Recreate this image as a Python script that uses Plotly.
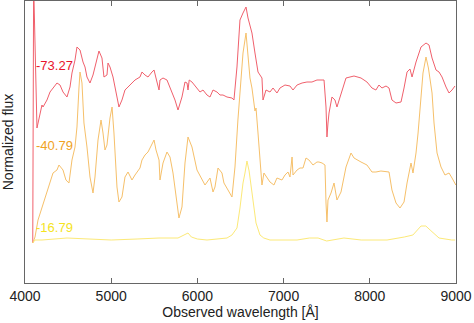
import plotly.graph_objects as go

# Spectrum 73.27 (red)
red_wl = [4090, 4100, 4139, 4197, 4209, 4255, 4290, 4325, 4371, 4406, 4441, 4487, 4522, 4545, 4580, 4603,
          4638, 4673, 4696, 4719, 4754, 4789, 4835, 4858, 4893, 4916, 4951, 4963, 4986, 5021, 5067, 5090,
          5125, 5160, 5195, 5241, 5276, 5334, 5357, 5392, 5427, 5473, 5497, 5531, 5555, 5566, 5601, 5647,
          5682, 5740, 5775, 5821, 5856, 5880, 5891, 5905, 5937, 5995, 6030, 6065, 6111, 6146, 6181, 6227,
          6262, 6297, 6343, 6401, 6424, 6459, 6494, 6529, 6564, 6587, 6633, 6668, 6703, 6749, 6761, 6796,
          6842, 6877, 6923, 6958, 7016, 7074, 7109, 7156, 7214, 7271, 7329, 7387, 7422, 7469, 7492, 7503,
          7515, 7527, 7561, 7596, 7619, 7666, 7724, 7817, 7898, 7967, 8025, 8071, 8106, 8141, 8188, 8223,
          8257, 8304, 8362, 8397, 8432, 8466, 8490, 8536, 8594, 8652, 8687, 8722, 8768, 8803, 8838, 8884,
          8919, 8954, 8988]
red_flux = [40, 300, 155, 178, 176, 183, 191, 195, 200, 198, 191, 186, 196, 210, 223, 236,
            233, 221, 216, 206, 200, 208, 226, 232, 225, 206, 208, 220, 216, 206, 186, 176,
            183, 193, 196, 200, 203, 206, 211, 208, 206, 211, 213, 201, 193, 203, 205, 203,
            196, 183, 173, 186, 201, 200, 193, 203, 201, 195, 191, 193, 188, 186, 193, 191,
            188, 188, 186, 185, 183, 216, 263, 270, 276, 265, 250, 230, 211, 205, 183, 193,
            191, 195, 190, 195, 198, 197, 193, 198, 200, 201, 201, 203, 203, 203, 176, 146,
            160, 170, 186, 183, 176, 190, 205, 207, 205, 201, 195, 193, 198, 195, 197, 195,
            183, 180, 181, 195, 211, 214, 206, 221, 236, 240, 238, 225, 213, 211, 206, 196,
            190, 193, 197]

# Spectrum 40.79 (orange)
orange_wl = [4090, 4116, 4151, 4197, 4232, 4290, 4325, 4371, 4394, 4441, 4475, 4510, 4545, 4580, 4603,
             4626, 4638, 4661, 4684, 4719, 4754, 4789, 4812, 4847, 4882, 4905, 4928, 4951, 4986, 5010,
             5032, 5067, 5090, 5125, 5160, 5195, 5241, 5276, 5334, 5357, 5392, 5427, 5473, 5497, 5520,
             5555, 5566, 5601, 5647, 5682, 5717, 5763, 5786, 5821, 5856, 5891, 5937, 5995, 6053, 6088,
             6146, 6181, 6204, 6239, 6285, 6308, 6355, 6401, 6436, 6470, 6529, 6564, 6610, 6633, 6668,
             6680, 6703, 6726, 6749, 6772, 6807, 6842, 6888, 6923, 6981, 7016, 7051, 7074, 7098, 7109,
             7156, 7190, 7225, 7260, 7294, 7341, 7387, 7410, 7446, 7480, 7492, 7503, 7515, 7550, 7585,
             7619, 7666, 7724, 7782, 7817, 7898, 7967, 8025, 8071, 8129, 8223, 8257, 8304, 8350, 8397,
             8432, 8478, 8501, 8536, 8560, 8594, 8617, 8652, 8680, 8722, 8745, 8780, 8826, 8872, 8919,
             8954, 8998]
orange_flux = [40, 46, 63, 76, 86, 101, 110, 113, 118, 113, 103, 100, 123, 136, 156,
               195, 211, 200, 160, 136, 106, 90, 106, 143, 163, 150, 133, 138, 165, 176,
               150, 96, 81, 86, 106, 111, 103, 108, 115, 123, 128, 131, 138, 143, 133,
               123, 103, 120, 131, 126, 110, 83, 65, 76, 120, 146, 136, 113, 103, 98,
               105, 91, 96, 115, 110, 100, 93, 86, 116, 163, 230, 250, 205, 195, 172,
               175, 150, 120, 98, 110, 105, 101, 98, 105, 103, 108, 111, 106, 126, 108,
               113, 115, 115, 125, 123, 118, 121, 121, 120, 118, 80, 61, 83, 90, 100,
               83, 91, 116, 130, 125, 121, 118, 111, 111, 112, 111, 93, 80, 75, 81,
               100, 120, 110, 130, 150, 185, 210, 226, 215, 190, 160, 130, 116, 108, 110,
               105, 98]

# Spectrum 16.79 (yellow)
yellow_wl = [4090, 4116, 4151, 4197, 4487, 4800, 5000, 5300, 5555, 5775, 5850, 5891, 5930, 6000,
             6111, 6250, 6343, 6401, 6459, 6494, 6529, 6552, 6575, 6600, 6645, 6680, 6726, 6770,
             6842, 7000, 7156, 7300, 7400, 7500, 7700, 7900, 8200, 8400, 8500, 8594, 8650, 8700,
             8803, 8950, 8990]
yellow_flux = [40, 43, 43, 43, 45, 44, 43, 44, 45, 45, 48, 50, 46, 44,
               43, 44, 45, 48, 55, 75, 100, 110, 122, 112, 80, 60, 48, 45,
               43, 43, 43, 45, 45, 42, 45, 43, 43, 46, 48, 57, 57, 53,
               45, 43, 43]

labels = ["73.27", "40.79", "16.79"]
label_flux = [218, 138, 56]
line_colors = ["#f0606c", "#f6c06a", "#fce978"]
text_colors = ["#e8152d", "#f0a21e", "#f5e41e"]
x_ticks = [4000, 5000, 6000, 7000, 8000, 9000]

fig = go.Figure()
for wl, fl, c in [(red_wl, red_flux, line_colors[0]),
                  (orange_wl, orange_flux, line_colors[1]),
                  (yellow_wl, yellow_flux, line_colors[2])]:
    fig.add_trace(go.Scatter(x=wl, y=fl, mode="lines",
                             line=dict(color=c, width=1), showlegend=False))

for lab, yv, tc in zip(labels, label_flux, text_colors):
    fig.add_annotation(x=4100, y=yv, text="-" + lab, showarrow=False,
                       xanchor="left", yanchor="middle",
                       font=dict(size=13, color=tc, family="Liberation Sans, Arial"))

fig.update_layout(
    width=474, height=323,
    margin=dict(l=25, r=18, t=1, b=40),
    paper_bgcolor="white", plot_bgcolor="white",
    font=dict(family="Liberation Sans, Arial", size=14, color="#222"),
)
fig.update_xaxes(range=[4000, 9000], tickvals=x_ticks, ticks="inside", ticklen=5,
                 tickcolor="#666", showline=True, linecolor="#666", linewidth=1,
                 mirror="ticks", showgrid=False, zeroline=False,
                 title=dict(text="Observed wavelength [Å]", standoff=4,
                            font=dict(size=14, color="#222")),
                 tickfont=dict(size=14, color="#222"))
fig.update_yaxes(range=[0, 282], showticklabels=False, ticks="", showline=True,
                 linecolor="#666", linewidth=1, mirror=True, showgrid=False, zeroline=False,
                 title=dict(text="Normalized flux", standoff=8, font=dict(size=14, color="#222")))

fig.write_html("out.html")
